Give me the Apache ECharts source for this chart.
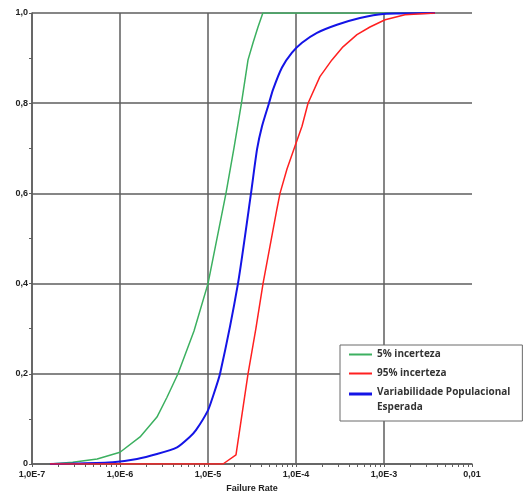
<!DOCTYPE html>
<html>
<head>
<meta charset="utf-8">
<script src="https://cdn.jsdelivr.net/npm/echarts@6/dist/echarts.min.js"></script>
<style>
html,body{margin:0;padding:0;background:#fff;}
#chart{width:523px;height:498px;}
</style>
</head>
<body>
<div id="chart"></div>
<script>
// ---- data ----
const xTickLabels = ['1,0E-7', '1,0E-6', '1,0E-5', '1,0E-4', '1,0E-3', '0,01'];
const yTickLabels = ['0', '0,2', '0,4', '0,6', '0,8', '1,0'];

const greenName = '5% incerteza';
const greenX = [1.6e-7, 2.9e-7, 5.5e-7, 1.0e-6, 1.69e-6, 2.63e-6, 3.42e-6, 4.56e-6, 6.93e-6, 1.0e-5, 1.6e-5, 1.97e-5, 2.4e-5, 2.85e-5, 3.25e-5, 3.7e-5, 4.2e-5, 3.8e-3];
const greenY = [0, 0.004, 0.011, 0.026, 0.06, 0.104, 0.148, 0.2, 0.295, 0.4, 0.6, 0.7, 0.8, 0.896, 0.934, 0.969, 1.0, 1.0];

const blueName = 'Variabilidade Populacional Esperada';
const blueX = [1.6e-7, 2.9e-7, 8.3e-7, 1.56e-6, 2.63e-6, 4.45e-6, 6.2e-6, 7.3e-6, 1.0e-5, 1.13e-5, 1.37e-5, 2.19e-5, 3.08e-5, 3.61e-5, 4.11e-5, 4.93e-5, 5.48e-5, 6.93e-5, 9.0e-5, 1.17e-4, 1.73e-4, 2.92e-4, 5.33e-4, 9.8e-4, 3.8e-3];
const blueY = [0, 0.001, 0.004, 0.011, 0.022, 0.037, 0.06, 0.075, 0.119, 0.148, 0.2, 0.4, 0.6, 0.698, 0.749, 0.8, 0.83, 0.879, 0.912, 0.934, 0.956, 0.974, 0.989, 0.998, 1.0];

const redName = '95% incerteza';
const redX = [1.6e-7, 1.48e-5, 2.08e-5, 2.85e-5, 3.5e-5, 4.22e-5, 6.08e-5, 6.58e-5, 7.9e-5, 9.75e-5, 1.17e-4, 1.37e-4, 1.87e-4, 2.56e-4, 3.42e-4, 4.93e-4, 6.93e-4, 1.03e-3, 1.73e-3, 3.8e-3];
const redY = [0, 0, 0.02, 0.2, 0.3, 0.4, 0.566, 0.6, 0.654, 0.705, 0.749, 0.8, 0.859, 0.896, 0.925, 0.952, 0.969, 0.985, 0.996, 1.0];

const minorMultipliers = [2, 3, 4, 5, 6, 7, 8, 9];
const decadeExponents = [-7, -6, -5, -4, -3];

// ---- build ----
function pairs(xs, ys) { return xs.map((x, i) => [x, ys[i]]); }
const minorTickValues = [];
decadeExponents.forEach(e => minorMultipliers.forEach(m => minorTickValues.push(m * Math.pow(10, e))));

const gridColor = '#5e5e5e';
const noLine = 'rgba(0,0,0,0)';
const labelFont = { fontFamily: 'Liberation Sans', fontWeight: 'bold', fontSize: 9, color: '#222' };

// legend icons: 23x15 boxes, line drawn in the middle (single-line items) or at the top (two-line item)
const iconMid = 'path://M0,0L0.01,0L0.01,0.01Z M0,6.5L23,6.5L23,8.5L0,8.5Z M0,15L0.01,15L0.01,14.99Z';
const iconTop = 'path://M0,0L23,0L23,3L0,3Z M0,15L0.01,15L0.01,14.99Z';

const chart = echarts.init(document.getElementById('chart'), null, { renderer: 'canvas' });
chart.setOption({
  backgroundColor: '#fff',
  animation: false,
  grid: { left: 32, top: 13, right: 51, bottom: 31, containLabel: false },
  xAxis: [{
    type: 'log', logBase: 10, min: 1e-7, max: 1e-2,
    name: 'Failure Rate', nameLocation: 'middle', nameGap: 20,
    nameTextStyle: Object.assign({}, labelFont, { fontSize: 9 }),
    axisLine: { show: true, lineStyle: { color: gridColor, width: 1.5 } },
    axisTick: { show: true, length: 3, lineStyle: { color: gridColor, width: 1 } },
    axisLabel: Object.assign({}, labelFont, {
      margin: 6,
      formatter: v => xTickLabels[Math.round(Math.log10(v)) + 7]
    }),
    // the log axis yields the max tick twice: hide the vertical line at 0,01
    splitLine: { show: true, lineStyle: { color: [gridColor, gridColor, gridColor, gridColor, gridColor, noLine, noLine], width: 1.5 } },
    minorTick: { show: false }
  }, {
    type: 'log', logBase: 10, min: 1e-7, max: 1e-2, gridIndex: 0, position: 'bottom',
    axisLine: { show: false },
    axisLabel: { show: false },
    splitLine: { show: false },
    axisTick: { show: true, length: 3, customValues: minorTickValues, lineStyle: { color: gridColor, width: 1 } }
  }],
  yAxis: {
    type: 'value', min: 0, max: 1, interval: 0.2,
    axisLine: { show: true, lineStyle: { color: gridColor, width: 1.5 } },
    axisTick: { show: true, length: 3, lineStyle: { color: gridColor, width: 1 } },
    minorTick: { show: true, splitNumber: 2, length: 3, lineStyle: { color: gridColor, width: 1 } },
    axisLabel: Object.assign({}, labelFont, {
      margin: 4,
      formatter: v => yTickLabels[Math.round(v * 5)]
    }),
    splitLine: { show: true, lineStyle: { color: gridColor, width: 1.5 } }
  },
  legend: {
    show: true,
    orient: 'vertical',
    left: 340, top: 345,
    width: 183,
    padding: [2, 12, 6, 9],
    itemGap: 4,
    itemWidth: 23, itemHeight: 15,
    backgroundColor: '#fff',
    borderColor: '#6a6a6a', borderWidth: 1,
    data: [
      { name: greenName, icon: iconMid },
      { name: redName, icon: iconMid },
      { name: blueName, icon: iconTop }
    ],
    formatter: name => name === blueName ? 'Variabilidade Populacional\nEsperada' : name,
    textStyle: { fontFamily: 'Open Sans', fontWeight: 'bold', fontSize: 10, color: '#333', lineHeight: 15 }
  },
  series: [
    { name: greenName, type: 'line', data: pairs(greenX, greenY), showSymbol: false, symbol: 'none',
      lineStyle: { color: '#3cb060', width: 1.5 }, itemStyle: { color: '#3cb060' }, z: 2 },
    { name: blueName, type: 'line', data: pairs(blueX, blueY), showSymbol: false, symbol: 'none',
      smooth: 0.2,
      lineStyle: { color: '#1414e6', width: 2 }, itemStyle: { color: '#1414e6' }, z: 3 },
    { name: redName, type: 'line', data: pairs(redX, redY), showSymbol: false, symbol: 'none',
      lineStyle: { color: '#ff2020', width: 1.5 }, itemStyle: { color: '#ff2020' }, z: 4 }
  ]
});
</script>
</body>
</html>
